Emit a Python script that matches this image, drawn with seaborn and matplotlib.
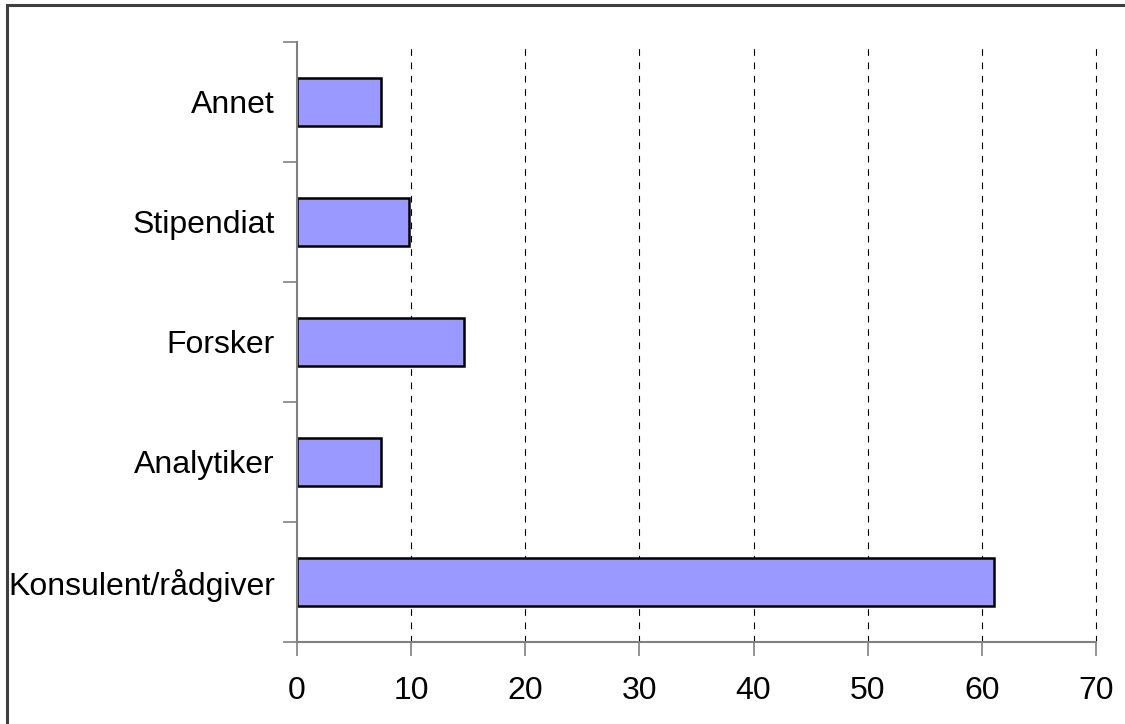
import numpy as np
import pandas as pd
import matplotlib
matplotlib.use("Agg")
import matplotlib.pyplot as plt
import seaborn as sns
from matplotlib.patches import Rectangle

categories = ["Annet", "Stipendiat", "Forsker", "Analytiker", "Konsulent/rådgiver"]
values = [7.4, 9.8, 14.6, 7.4, 61.1]
x_ticks = [0, 10, 20, 30, 40, 50, 60, 70]

sns.set_style("white")
plt.rcParams['font.family'] = ['Liberation Sans', 'DejaVu Sans']

df = pd.DataFrame({"kategori": categories, "verdi": values})

fig = plt.figure(figsize=(11.25, 7.24), dpi=100)
ax = fig.add_axes([0.264, 0.1137, 0.7102, 0.8283])

sns.barplot(data=df, x="verdi", y="kategori", order=categories, orient="h",
            color="#9999FF", saturation=1, width=0.4,
            edgecolor="black", linewidth=1.8, ax=ax)

ax.set_xlim(0, 70)
ax.set_ylim(len(categories) - 0.5, -0.5)
ax.set_xticks(x_ticks)
ax.set_xticklabels([str(t) for t in x_ticks])
ax.set_xlabel("")
ax.set_ylabel("")

# stiplede vertikale linjer
for t in x_ticks[1:]:
    ax.axvline(t, color="black", linestyle=(0, (6, 6)), linewidth=0.8,
               zorder=0, clip_on=False)

# tick-merker mellom kategoriene på y-aksen
ax.set_yticks(np.arange(-0.5, len(categories), 1.0), minor=True)
ax.tick_params(axis="y", which="major", left=True, length=0, pad=16,
               labelsize=23, labelcolor="black")
ax.tick_params(axis="y", which="minor", left=True, length=10, width=1.2,
               color="#808080", direction="out")
ax.tick_params(axis="x", which="major", bottom=True, length=10, width=1.2,
               color="#808080", direction="out", pad=15, labelsize=23,
               labelcolor="black")

for s in ["top", "right"]:
    ax.spines[s].set_visible(False)
for s in ["left", "bottom"]:
    ax.spines[s].set_color("#808080")
    ax.spines[s].set_linewidth(1.5)

# ytre ramme (bare topp og venstre synlig i originalen)
fig.patches.append(Rectangle((0.0062, -0.05), 1.1, 1.0431, transform=fig.transFigure,
                             fill=False, edgecolor="#404040", linewidth=2.2))

fig.savefig("out.png", dpi=100)
